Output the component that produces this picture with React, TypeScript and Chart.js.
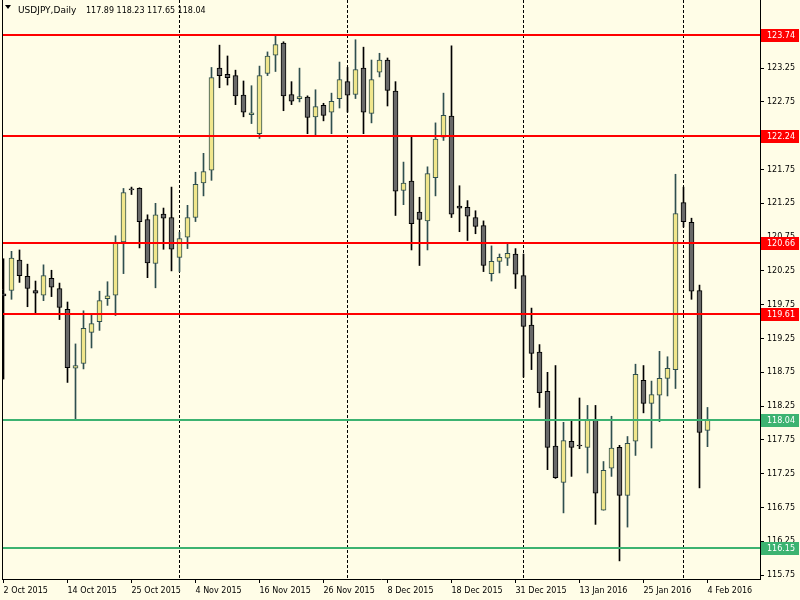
import React, { useEffect, useRef } from 'react';
import { Chart, registerables } from 'chart.js';

Chart.register(...registerables);

const symbolTitle = 'USDJPY,Daily';
const lastQuote = '117.89 118.23 117.65 118.04';

const opens = [
  119.91, 119.96, 120.41, 120.17, 119.96, 119.89, 120.14, 119.99, 119.68, 118.81,
  118.88, 119.34, 119.50, 119.84, 119.89, 120.68, 121.45, 121.47, 121.01, 120.36,
  121.09, 121.04, 120.45, 120.75, 121.04, 121.55, 121.74, 123.25, 123.16, 123.14,
  122.85, 122.56, 122.28, 123.17, 123.44, 123.62, 122.86, 122.80, 122.82, 122.53,
  122.70, 122.60, 122.80, 123.05, 122.86, 123.25, 122.58, 123.19, 123.37, 122.91,
  121.44, 121.58, 121.12, 120.99, 121.63, 122.23, 122.54, 121.21, 121.19, 121.04,
  120.92, 120.21, 120.39, 120.44, 120.50, 120.18, 119.45, 119.05, 118.47, 117.66,
  117.12, 117.73, 117.66, 117.64, 118.05, 116.71, 117.33, 117.64, 116.93, 117.73,
  118.63, 118.29, 118.41, 118.66, 118.79, 121.26, 120.97, 119.96, 117.89,
];
const highs = [
  120.43, 120.54, 120.56, 120.35, 120.10, 120.34, 120.26, 120.07, 119.79, 119.17,
  119.66, 119.60, 119.95, 120.09, 120.77, 121.47, 121.49, 121.48, 121.08, 121.25,
  121.18, 121.49, 120.82, 121.22, 121.71, 121.99, 123.26, 123.59, 123.43, 123.22,
  123.06, 122.99, 123.28, 123.49, 123.75, 123.64, 123.05, 123.25, 122.84, 122.93,
  122.73, 122.88, 123.34, 123.26, 123.67, 123.56, 123.37, 123.47, 123.40, 123.05,
  121.86, 122.24, 121.34, 121.79, 122.44, 122.88, 123.58, 121.51, 121.29, 121.14,
  120.99, 120.62, 120.50, 120.65, 120.58, 120.50, 119.70, 119.16, 118.75, 118.85,
  118.01, 118.05, 118.37, 118.26, 118.26, 117.43, 118.10, 117.67, 117.80, 118.87,
  118.85, 118.62, 119.06, 118.98, 121.68, 121.49, 121.03, 120.04, 118.23,
];
const lows = [
  118.65, 119.83, 120.08, 119.72, 119.61, 119.81, 119.87, 119.53, 118.60, 118.04,
  118.80, 119.11, 119.37, 119.74, 119.59, 120.21, 121.38, 120.59, 120.15, 120.00,
  120.57, 120.25, 120.24, 120.58, 120.98, 121.36, 121.59, 122.96, 123.00, 122.71,
  122.53, 122.43, 122.21, 123.14, 123.20, 122.62, 122.71, 122.75, 122.28, 122.24,
  122.47, 122.28, 122.66, 122.60, 122.80, 122.28, 122.44, 123.12, 122.69, 121.07,
  121.23, 120.56, 120.33, 120.56, 121.36, 122.18, 121.04, 120.83, 120.70, 120.80,
  120.24, 120.10, 120.22, 120.33, 119.99, 118.68, 118.79, 118.23, 117.31, 117.18,
  116.67, 117.21, 117.62, 117.26, 116.50, 116.71, 117.21, 115.96, 116.46, 117.52,
  118.15, 117.63, 118.02, 118.40, 118.51, 120.90, 119.83, 117.04, 117.65,
];
const closes = [
  119.88, 120.44, 120.18, 119.99, 119.92, 120.18, 120.01, 119.71, 118.82, 118.85,
  119.40, 119.47, 119.81, 119.88, 120.67, 121.41, 121.45, 120.98, 120.37, 121.08,
  121.03, 120.57, 120.73, 121.04, 121.53, 121.72, 123.11, 123.14, 123.11, 122.84,
  122.60, 122.59, 123.14, 123.43, 123.60, 122.84, 122.76, 122.83, 122.52, 122.68,
  122.55, 122.76, 123.08, 122.85, 123.23, 122.60, 123.08, 123.37, 122.92, 121.43,
  121.55, 120.95, 121.01, 121.69, 122.20, 122.55, 121.09, 121.18, 121.06, 120.91,
  120.33, 120.39, 120.45, 120.51, 120.20, 119.43, 119.03, 118.45, 117.64, 117.19,
  117.74, 117.64, 117.66, 118.04, 116.96, 117.30, 117.63, 116.93, 117.70, 118.72,
  118.29, 118.42, 118.66, 118.81, 121.10, 120.98, 119.95, 117.86, 118.04,
];

const xTickIndices = [0, 8, 16, 24, 32, 40, 48, 56, 64, 72, 80, 88];
const xTickLabels = [
  '2 Oct 2015', '14 Oct 2015', '25 Oct 2015', '4 Nov 2015', '16 Nov 2015', '26 Nov 2015',
  '8 Dec 2015', '18 Dec 2015', '31 Dec 2015', '13 Jan 2016', '25 Jan 2016', '4 Feb 2016',
];
const monthStartIndices = [22, 43, 65, 85];
const yTickValues = [
  115.75, 116.25, 116.75, 117.25, 117.75, 118.25, 118.75, 119.25,
  119.75, 120.25, 120.75, 121.25, 121.75, 122.25, 122.75, 123.25,
];
const redLevels = [123.74, 122.24, 120.66, 119.61];
const greenLevels = [118.04, 116.15];

const BG = '#FFFDE7';
const BULL_FILL = '#F0E68C';
const BULL_LINE = '#2F4F4F';
const BEAR_FILL = '#696969';
const BEAR_LINE = '#000000';
const RED = '#FF0000';
const GREEN = '#3CB371';
const FONT = '"DejaVu Sans", sans-serif';

export default function App() {
  const ref = useRef<HTMLCanvasElement | null>(null);

  useEffect(() => {
    document.body.style.margin = '0';
    const canvas = ref.current;
    if (!canvas) return;

    const bull = opens.map((o, i) => closes[i] > o);
    const wickData = opens.map((_, i) => ({ x: i, y: [lows[i], highs[i]] }));
    const bodyData = opens.map((o, i) => ({ x: i, y: [o, closes[i]] }));

    const zeroPad = (s: any) => {
      s.paddingTop = 0;
      s.paddingBottom = 0;
      s.paddingLeft = 0;
      s.paddingRight = 0;
    };

    const bgPlugin = {
      id: 'bg',
      beforeDraw(chart: any) {
        const c = chart.ctx;
        c.save();
        c.fillStyle = BG;
        c.fillRect(0, 0, chart.width, chart.height);
        c.restore();
      },
      beforeDatasetsDraw(chart: any) {
        const c = chart.ctx;
        const a = chart.chartArea;
        const xs = chart.scales.x;
        c.save();
        c.strokeStyle = '#000';
        c.lineWidth = 1;
        c.setLineDash([3, 2]);
        monthStartIndices.forEach((idx) => {
          const x = Math.floor(xs.getPixelForValue(idx)) + 0.5;
          c.beginPath();
          c.moveTo(x, a.top);
          c.lineTo(x, a.bottom);
          c.stroke();
        });
        c.setLineDash([]);
        c.beginPath();
        c.moveTo(a.left + 0.5, a.top);
        c.lineTo(a.left + 0.5, a.bottom);
        c.stroke();
        c.restore();
      },
      afterDatasetsDraw(chart: any) {
        const c = chart.ctx;
        const a = chart.chartArea;
        const ys = chart.scales.y;
        c.save();
        c.lineWidth = 2;
        const hl = (v: number, col: string) => {
          const y = Math.round(ys.getPixelForValue(v));
          c.strokeStyle = col;
          c.beginPath();
          c.moveTo(a.left + 1, y);
          c.lineTo(a.right, y);
          c.stroke();
        };
        redLevels.forEach((v) => hl(v, RED));
        greenLevels.forEach((v) => hl(v, GREEN));
        c.restore();
      },
      afterDraw(chart: any) {
        const c = chart.ctx;
        const a = chart.chartArea;
        const ys = chart.scales.y;
        c.save();
        const box = (v: number, col: string) => {
          const y = Math.round(ys.getPixelForValue(v));
          c.fillStyle = col;
          c.fillRect(a.right + 1, y - 6, 38, 13);
          c.fillStyle = '#FFFFFF';
          c.font = '8px ' + FONT;
          c.textBaseline = 'middle';
          c.textAlign = 'left';
          c.fillText(v.toFixed(2), a.right + 7, y + 0.5);
        };
        redLevels.forEach((v) => box(v, RED));
        greenLevels.forEach((v) => box(v, GREEN));
        // title
        c.fillStyle = '#000';
        c.beginPath();
        c.moveTo(5, 5);
        c.lineTo(11, 5);
        c.lineTo(8, 9);
        c.closePath();
        c.fill();
        c.font = '9px ' + FONT;
        c.textBaseline = 'middle';
        c.textAlign = 'left';
        c.fillText(symbolTitle, 18, 10.5);
        c.font = '8px ' + FONT;
        c.fillText(lastQuote, 86, 10.5);
        c.restore();
      },
    };

    const chart = new Chart(canvas, {
      type: 'bar',
      data: {
        datasets: [
          {
            label: 'wick',
            data: wickData as any,
            backgroundColor: bull.map((b) => (b ? BULL_LINE : BEAR_LINE)),
            borderWidth: 0,
            barThickness: 1,
            grouped: false,
            order: 2,
            clip: 0,
          } as any,
          {
            label: 'body',
            data: bodyData as any,
            backgroundColor: bull.map((b) => (b ? BULL_FILL : BEAR_FILL)),
            borderColor: bull.map((b) => (b ? BULL_LINE : BEAR_LINE)),
            borderWidth: 1,
            borderSkipped: false,
            barThickness: 5,
            minBarLength: 1,
            grouped: false,
            order: 1,
            clip: 0,
          } as any,
        ],
      },
      options: {
        animation: false,
        responsive: false,
        maintainAspectRatio: false,
        layout: { padding: { left: 2, top: 0, right: 0, bottom: 0 } },
        plugins: {
          legend: { display: false },
          tooltip: { enabled: false },
          title: { display: false },
        },
        scales: {
          x: {
            type: 'linear',
            position: 'bottom',
            min: -0.1875,
            max: 94.5625,
            offset: false,
            afterBuildTicks: (s: any) => {
              s.ticks = xTickIndices.map((v) => ({ value: v }));
            },
            afterFit: (s: any) => {
              s.height = 21;
              zeroPad(s);
            },
            ticks: {
              autoSkip: false,
              maxRotation: 0,
              minRotation: 0,
              align: 'start',
              color: '#000',
              padding: 3,
              font: { family: FONT, size: 8 },
              callback: (v: any) => {
                const k = xTickIndices.indexOf(Number(v));
                return k >= 0 ? xTickLabels[k] : '';
              },
            },
            grid: { offset: false, drawOnChartArea: false, drawTicks: true, tickLength: 4, color: '#000' },
            border: { display: true, color: '#000', width: 1 },
          },
          y: {
            type: 'linear',
            position: 'right',
            min: 115.692,
            max: 124.258,
            afterBuildTicks: (s: any) => {
              s.ticks = yTickValues.map((v) => ({ value: v }));
            },
            afterFit: (s: any) => {
              s.width = 40;
              zeroPad(s);
            },
            ticks: {
              autoSkip: false,
              color: '#000',
              padding: 3,
              font: { family: FONT, size: 8 },
              callback: (v: any) => Number(v).toFixed(2),
            },
            grid: { drawOnChartArea: false, drawTicks: true, tickLength: 4, color: '#000' },
            border: { display: true, color: '#000', width: 1 },
          },
        },
      } as any,
      plugins: [bgPlugin],
    });

    return () => {
      chart.destroy();
    };
  }, []);

  return (
    <div style={{ width: 800, height: 600, position: 'relative' }}>
      <canvas ref={ref} width={800} height={600} style={{ display: 'block', width: 800, height: 600 }} />
    </div>
  );
}
